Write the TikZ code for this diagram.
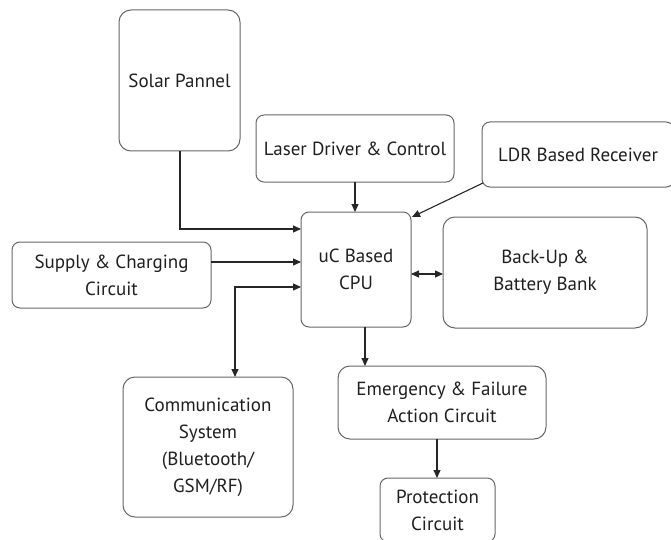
\documentclass[tikz,border=0pt]{standalone}
\usepackage{fontspec}
\setmainfont{PT Sans}
\usetikzlibrary{arrows.meta}
\begin{document}
\begin{tikzpicture}[x=1pt,y=-1pt,
  block/.style={draw=black!60, line width=1pt, rounded corners=12pt, inner sep=0pt, outer sep=0pt,
    align=center, font=\fontsize{19}{27}\selectfont, text=black!88},
  link/.style={line width=1.1pt, draw=black!85, -{Triangle[length=8pt,width=7pt]}},
  biLink/.style={line width=1.1pt, draw=black!85, {Triangle[length=8pt,width=7pt]}-{Triangle[length=8pt,width=7pt]}}]
  \useasboundingbox (0,0) rectangle (671,540);
  \clip (0,0) rectangle (671,540);

  % blocks
  \node[block, minimum width=121pt, minimum height=141pt] (solar) at (179.5,80.5) {\raisebox{-4pt}{Solar Pannel}};
  \node[block, rounded corners=8pt, minimum width=198pt, minimum height=67pt] (laser) at (355,148.5) {Laser Driver \& Control};
  \node[block, rounded corners=8pt, minimum width=192pt, minimum height=65pt] (ldr) at (578,154.5) {LDR Based Receiver};
  \node[block, rounded corners=8pt, minimum width=110pt, minimum height=115pt] (cpu) at (356,269.5) {uC Based\\CPU};
  \node[block, minimum width=204pt, minimum height=111pt] (backup) at (545,272.5) {Back-Up \&\\Battery Bank};
  \node[block, rounded corners=8pt, minimum width=199pt, minimum height=66pt] (supply) at (111.5,275) {Supply \& Charging\\Circuit};
  \node[block, minimum width=170pt, minimum height=140pt] (comm) at (208,447) {Communication\\System\\(Bluetooth/\\GSM/RF)};
  \node[block, minimum width=208pt, minimum height=73pt] (emerg) at (442,402.5) {Emergency \& Failure\\Action Circuit};
  \node[block, rounded corners=8pt, minimum width=115pt, minimum height=64pt] (prot) at (437.5,510) {Protection\\Circuit};

  % connectors
  \draw[link] (solar.south) ++(0.5,0) |- (cpu.west |- 0,229);
  \draw[link] (supply.east |- 0,262) -- (cpu.west |- 0,262);
  \draw[biLink] (comm.north -| 235,0) |- (cpu.west |- 0,287);
  \draw[link] (laser.south) -- (cpu.north -| laser.south);
  \draw[link] (ldr.south west) ++(1,-4) -- (412,217);
  \draw[biLink] (cpu.east |- 0,274) -- (backup.west |- 0,274);
  \draw[link] (cpu.south -| 365,0) -- (emerg.north -| 365,0);
  \draw[link] (emerg.south -| 437,0) -- (prot.north -| 437,0);
\end{tikzpicture}
\end{document}
